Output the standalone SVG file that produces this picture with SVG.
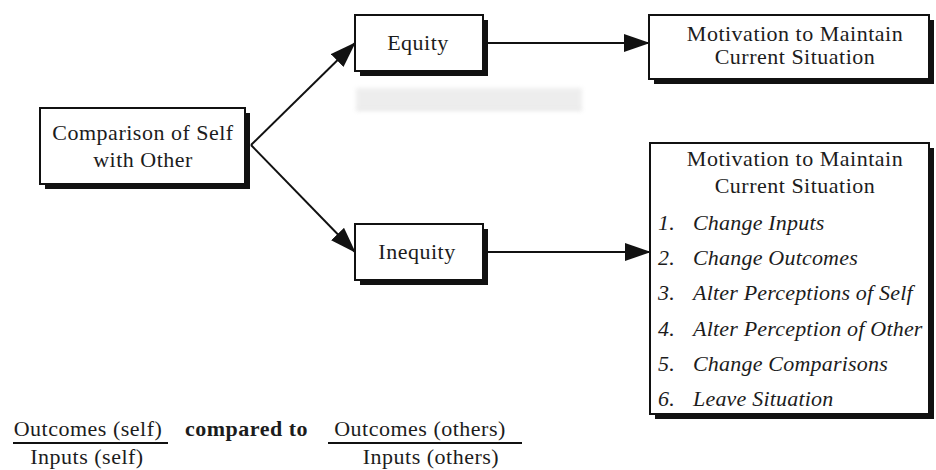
<svg xmlns="http://www.w3.org/2000/svg" width="936" height="470" viewBox="0 0 936 470">
  <defs>
    <style>
      text { font-family: "Liberation Serif", "Times New Roman", serif; font-size: 22px; fill: #1c1c1c; letter-spacing: 0.5px; }
      .c { text-anchor: middle; }
      .it { font-style: italic; letter-spacing: 0.2px; }
      .b { font-weight: bold; }
      .box { fill: #ffffff; stroke: #111111; stroke-width: 2; }
      .shadow { fill: #111111; }
      .edge { stroke: #111111; stroke-width: 2; fill: none; }
      .rule { stroke: #111111; stroke-width: 2; }
    </style>
    <marker id="arrow" viewBox="0 0 26 18" refX="25" refY="9" markerWidth="26" markerHeight="18" markerUnits="userSpaceOnUse" orient="auto">
      <path d="M0,0 L26,9 L0,18 Z" fill="#111111"/>
    </marker>
    <filter id="soft" x="-10%" y="-50%" width="120%" height="200%">
      <feGaussianBlur stdDeviation="2"/>
    </filter>
  </defs>

  <rect width="936" height="470" fill="#ffffff"/>

  <!-- faint grey print smear below the Equity box -->
  <g filter="url(#soft)" opacity="0.4">
    <rect x="356" y="88" width="226" height="22" fill="#d4d4d4"/>
    <rect x="356" y="108" width="226" height="3" fill="#c4c4c4"/>
  </g>

  <!-- connectors -->
  <g id="connectors">
    <line class="edge" x1="251" y1="145" x2="355" y2="43" marker-end="url(#arrow)"/>
    <line class="edge" x1="251" y1="145" x2="355" y2="252" marker-end="url(#arrow)"/>
    <line class="edge" x1="487" y1="43" x2="649" y2="43" marker-end="url(#arrow)"/>
    <line class="edge" x1="487" y1="252" x2="650" y2="252" marker-end="url(#arrow)"/>
  </g>

  <g id="comparison">
    <rect class="shadow" x="45" y="113" width="205" height="76"/>
    <rect class="box" x="40" y="108" width="205" height="76"/>
    <text class="c" x="143" y="140">Comparison of Self</text>
    <text class="c" x="143" y="167">with Other</text>
  </g>

  <g id="equity">
    <rect class="shadow" x="360" y="20" width="128" height="56"/>
    <rect class="box" x="355" y="15" width="128" height="56"/>
    <text class="c" x="418" y="50">Equity</text>
  </g>

  <g id="inequity">
    <rect class="shadow" x="360" y="229" width="128" height="56"/>
    <rect class="box" x="355" y="224" width="128" height="56"/>
    <text class="c" x="417" y="259">Inequity</text>
  </g>

  <g id="maintain">
    <rect class="shadow" x="654" y="20" width="280" height="64"/>
    <rect class="box" x="649" y="15" width="280" height="64"/>
    <text class="c" x="795" y="41">Motivation to Maintain</text>
    <text class="c" x="795" y="64">Current Situation</text>
  </g>

  <g id="restore">
    <rect class="shadow" x="655" y="148" width="279" height="271"/>
    <rect class="box" x="650" y="143" width="279" height="271"/>
    <text class="c" x="795" y="166">Motivation to Maintain</text>
    <text class="c" x="795" y="193">Current Situation</text>
    <text class="it" x="658" y="230">1.</text>
    <text class="it" x="693" y="230">Change Inputs</text>
    <text class="it" x="658" y="265">2.</text>
    <text class="it" x="693" y="265">Change Outcomes</text>
    <text class="it" x="658" y="300">3.</text>
    <text class="it" x="693" y="300">Alter Perceptions of Self</text>
    <text class="it" x="658" y="336">4.</text>
    <text class="it" x="693" y="336">Alter Perception of Other</text>
    <text class="it" x="658" y="371">5.</text>
    <text class="it" x="693" y="371">Change Comparisons</text>
    <text class="it" x="658" y="406">6.</text>
    <text class="it" x="693" y="406">Leave Situation</text>
  </g>

  <!-- ratio formula -->
  <g id="formula">
    <text class="c" x="88" y="436">Outcomes (self)</text>
    <line class="rule" x1="13" y1="443" x2="168" y2="443"/>
    <text class="c" x="87" y="464">Inputs (self)</text>
    <text class="b" x="185" y="436">compared to</text>
    <text class="c" x="420" y="436">Outcomes (others)</text>
    <line class="rule" x1="328" y1="443" x2="522" y2="443"/>
    <text class="c" x="431" y="464">Inputs (others)</text>
  </g>
</svg>
